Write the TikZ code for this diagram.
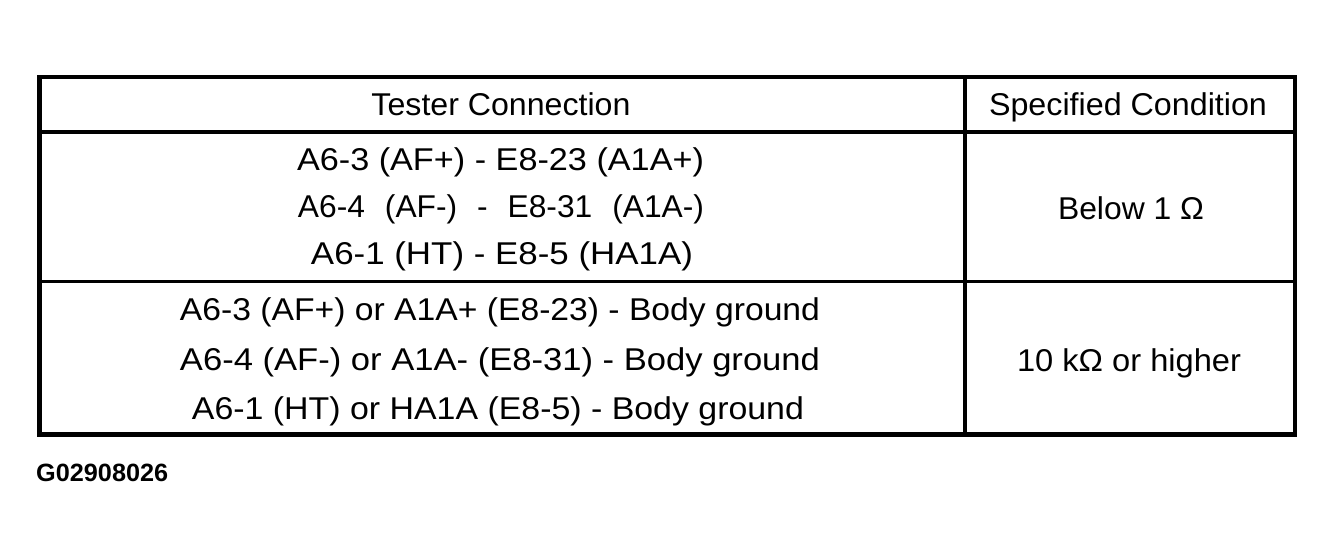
\documentclass[tikz,border=0pt]{standalone}
\usepackage{fontspec}
\usepackage{graphicx}
\setmainfont{Liberation Sans}
\newcommand\fitw[2]{\resizebox{#1pt}{\height}{#2}}
\newcommand\wsp{\ \hspace{0.35em}}
\begin{document}
\begin{tikzpicture}[x=1pt,y=-1pt,
  outer/.style={line width=4.5pt},
  inner/.style={line width=3.2pt},
  txt/.style={inner sep=0pt,anchor=base,font=\fontsize{31.5}{36}\selectfont}]
\useasboundingbox (0,0) rectangle (1335,556);
\coordinate (tl) at (39.5,77);
\coordinate (br) at (1295,434.5);
\coordinate (r1l) at (39.5,132);   \coordinate (r1r) at (1295,132);
\coordinate (r2l) at (39.5,281.5); \coordinate (r2r) at (1295,281.5);
\coordinate (ct) at (965,77);      \coordinate (cb) at (965,434.5);
\draw[inner] (r1l) -- (r1r);
\draw[inner] (r2l) -- (r2r);
\draw[inner] (ct) -- (cb);
\draw[outer] (tl) rectangle (br);
\node[txt] (h1) at (501,115.5) {\fitw{259}{Tester Connection}};
\node[txt] (h2) at (1128,115.5) {\fitw{278}{Specified Condition}};
\node[txt] (a1) at (500.5,171) {\fitw{407}{A6-3 (AF+) - E8-23 (A1A+)}};
\node[txt] (a2) at (501,218) {\fitw{406}{A6-4\wsp(AF-)\wsp-\wsp E8-31\wsp(A1A-)}};
\node[txt] (a3) at (502,264.5) {\fitw{382}{A6-1 (HT) - E8-5 (HA1A)}};
\node[txt] (b1) at (1131,219) {\fitw{146}{Below 1 Ω}};
\node[txt] (c1) at (500,320) {\fitw{640}{A6-3 (AF+) or A1A+ (E8-23) - Body ground}};
\node[txt] (c2) at (500,370) {\fitw{640}{A6-4 (AF-) or A1A- (E8-31) - Body ground}};
\node[txt] (c3) at (498,419) {\fitw{612}{A6-1 (HT) or HA1A (E8-5) - Body ground}};
\node[txt] (d1) at (1129,371.5) {\fitw{224}{10 kΩ or higher}};
\node[inner sep=0pt,anchor=base west,font=\fontsize{25}{30}\selectfont\bfseries] (id) at (36,481) {\fitw{132}{G02908026}};
\end{tikzpicture}
\end{document}
